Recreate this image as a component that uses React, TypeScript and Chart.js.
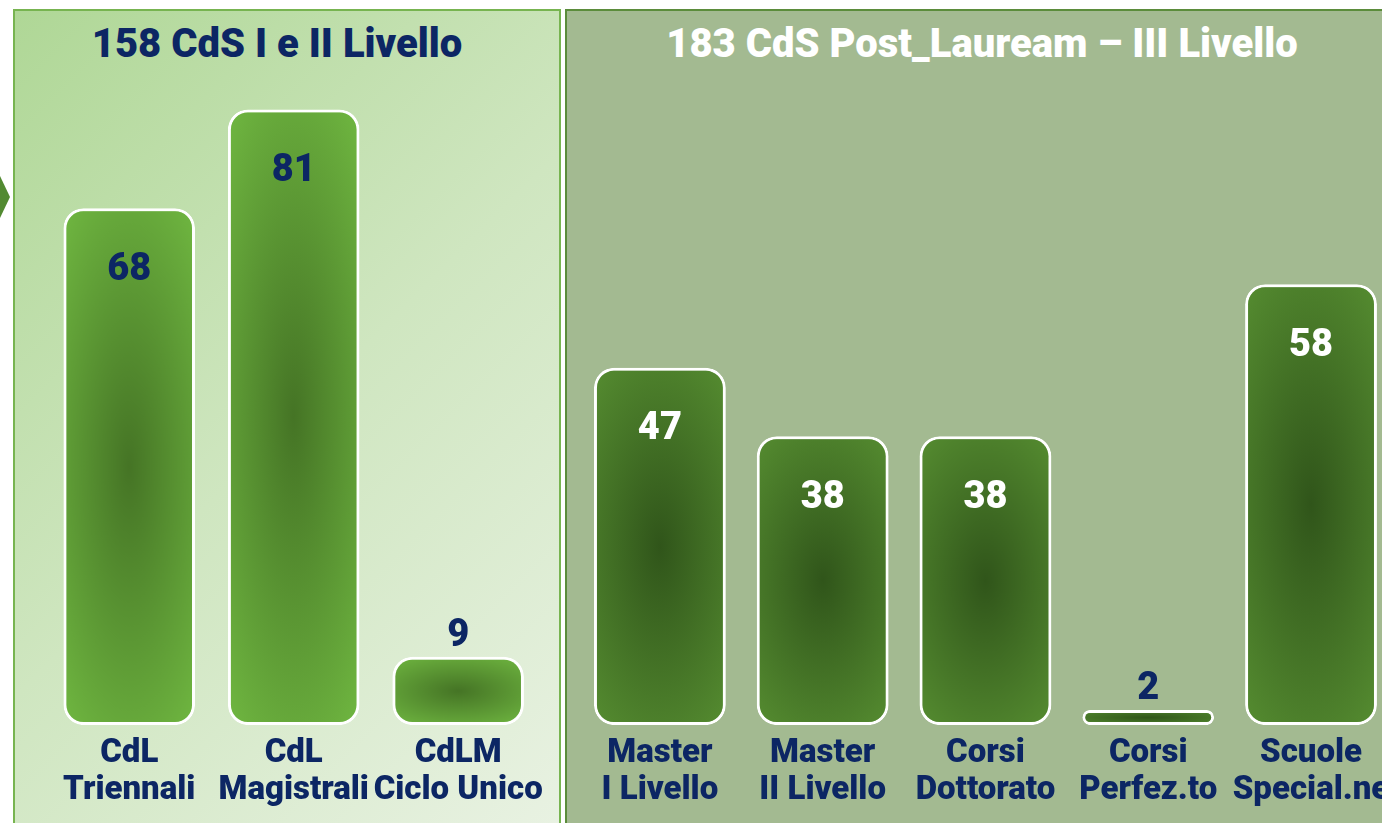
import React, { useEffect, useRef } from "react";
import { Chart, registerables } from "chart.js";

Chart.register(...registerables);

// ---------- data ----------
const leftTitle = "158 CdS I e II Livello";
const leftCategories: string[][] = [
  ["CdL", "Triennali"],
  ["CdL", "Magistrali"],
  ["CdLM", "Ciclo Unico"],
];
const leftValues: number[] = [68, 81, 9];

const rightTitle = "183 CdS Post_Lauream – III Livello";
const rightCategories: string[][] = [
  ["Master", "I Livello"],
  ["Master", "II Livello"],
  ["Corsi", "Dottorato"],
  ["Corsi", "Perfez.to"],
  ["Scuole", "Special.ne"],
];
const rightValues: number[] = [47, 38, 38, 2, 58];

const yMax = 90;

// ---------- styles ----------
const NAVY = "#0c2664";
const FONT = "Roboto, 'Noto Sans', sans-serif";
const WEIGHT = "900";

type PanelCfg = {
  labels: string[][];
  values: number[];
  edge: string;
  center: string;
  insideColor: string;
  outsideColor: string;
  catPct: number;
  padding: { left: number; right: number; top: number; bottom: number };
};

function barFill(ctx: any, cfg: PanelCfg) {
  if (ctx.type !== "data") return cfg.edge;
  const chart = ctx.chart;
  const xs = chart.scales.x;
  const ys = chart.scales.y;
  if (!xs || !ys || !chart.chartArea) return cfg.edge;
  const n = chart.data.labels.length;
  const w = ((xs.right - xs.left) / n) * cfg.catPct;
  const cx = xs.getPixelForValue(ctx.dataIndex);
  const top = ys.getPixelForValue(ctx.raw);
  const base = ys.getPixelForValue(0);
  const h = Math.max(2, base - top);
  const off = document.createElement("canvas");
  off.width = Math.max(1, Math.ceil(w));
  off.height = Math.max(1, Math.ceil(h));
  const c = off.getContext("2d");
  if (!c) return cfg.edge;
  c.fillStyle = cfg.edge;
  c.fillRect(0, 0, off.width, off.height);
  c.setTransform(w * 0.75, 0, 0, h * 0.6, w / 2, h / 2);
  const g = c.createRadialGradient(0, 0, 0, 0, 0, 1);
  g.addColorStop(0, cfg.center);
  g.addColorStop(1, cfg.edge);
  c.fillStyle = g;
  c.fillRect(-1, -1, 2, 2);
  const p = chart.ctx.createPattern(off, "no-repeat");
  if (!p) return cfg.edge;
  p.setTransform(new DOMMatrix([1, 0, 0, 1, cx - w / 2, top]));
  return p;
}

function makeValuePlugin(cfg: PanelCfg) {
  return {
    id: "valueLabels",
    afterDatasetsDraw(chart: any) {
      const meta = chart.getDatasetMeta(0);
      const ctx = chart.ctx;
      ctx.save();
      ctx.font = `${WEIGHT} 38px ${FONT}`;
      ctx.textAlign = "center";
      ctx.textBaseline = "middle";
      meta.data.forEach((el: any, i: number) => {
        const v = chart.data.datasets[0].data[i];
        const h = el.base - el.y;
        if (h > 90) {
          ctx.fillStyle = cfg.insideColor;
          ctx.fillText(String(v), el.x, el.y + 62);
        } else {
          ctx.fillStyle = cfg.outsideColor;
          ctx.fillText(String(v), el.x, el.y - 20);
        }
      });
      ctx.restore();
    },
  };
}

function PanelChart({ cfg }: { cfg: PanelCfg }) {
  const ref = useRef<HTMLCanvasElement | null>(null);
  useEffect(() => {
    if (!ref.current) return;
    const chart = new Chart(ref.current, {
      type: "bar",
      data: {
        labels: cfg.labels,
        datasets: [
          {
            data: cfg.values,
            backgroundColor: (ctx: any) => barFill(ctx, cfg),
            borderColor: "#ffffff",
            borderWidth: 3,
            borderRadius: 20,
            borderSkipped: false,
            categoryPercentage: cfg.catPct,
            barPercentage: 1,
          },
        ],
      },
      options: {
        animation: false,
        responsive: true,
        maintainAspectRatio: false,
        layout: { padding: cfg.padding },
        plugins: {
          legend: { display: false },
          tooltip: { enabled: false },
          title: { display: false },
        },
        scales: {
          x: {
            grid: { display: false, drawTicks: false },
            border: { display: false },
            ticks: {
              color: NAVY,
              padding: 10,
              maxRotation: 0,
              autoSkip: false,
              font: { family: FONT, size: 33, weight: WEIGHT, lineHeight: 1.12 },
            },
          },
          y: {
            display: false,
            min: 0,
            max: yMax,
          },
        },
      },
      plugins: [makeValuePlugin(cfg)],
    });
    return () => chart.destroy();
  }, [cfg]);
  return <canvas ref={ref} />;
}

const leftCfg: PanelCfg = {
  labels: leftCategories,
  values: leftValues,
  edge: "#6db33f",
  center: "#457425",
  insideColor: NAVY,
  outsideColor: NAVY,
  catPct: 0.8,
  padding: { left: 33, right: 18.6, top: 31, bottom: 4 },
};

const rightCfg: PanelCfg = {
  labels: rightCategories,
  values: rightValues,
  edge: "#53892f",
  center: "#30551a",
  insideColor: "#ffffff",
  outsideColor: NAVY,
  catPct: 0.81,
  padding: { left: 12.5, right: 6.5, top: 31, bottom: 4 },
};

export default function App() {
  useEffect(() => {
    document.body.style.margin = "0";
  }, []);
  return (
    <div
      style={{
        position: "fixed",
        left: 0,
        top: 0,
        width: 1382,
        height: 823,
        overflow: "hidden",
        background: "#ffffff",
        fontFamily: FONT,
      }}
    >
      {/* arrow tip */}
      <div
        style={{
          position: "absolute",
          left: 0,
          top: 176,
          width: 10,
          height: 42,
          background: "#528a31",
          clipPath: "polygon(0 0, 100% 50%, 0 100%)",
        }}
      />
      {/* left panel */}
      <div
        style={{
          position: "absolute",
          left: 13,
          top: 9,
          width: 544,
          height: 830,
          border: "2px solid #77b450",
          background: "linear-gradient(135deg, #afd796 0%, #cfe6c0 50%, #e9f2e3 100%)",
        }}
      />
      {/* right panel */}
      <div
        style={{
          position: "absolute",
          left: 565,
          top: 9,
          width: 840,
          height: 830,
          border: "2px solid #5b8c3b",
          background: "#a3ba91",
        }}
      />
      {/* titles */}
      <div
        style={{
          position: "absolute",
          left: 14,
          top: 22,
          width: 526,
          textAlign: "center",
          lineHeight: "44px",
          fontSize: 40,
          fontWeight: 900,
          color: NAVY,
          whiteSpace: "nowrap",
        }}
      >
        {leftTitle}
      </div>
      <div
        style={{
          position: "absolute",
          left: 566,
          top: 22,
          width: 832,
          textAlign: "center",
          lineHeight: "44px",
          fontSize: 40,
          fontWeight: 900,
          color: "#ffffff",
          whiteSpace: "nowrap",
        }}
      >
        {rightTitle}
      </div>
      {/* charts */}
      <div style={{ position: "absolute", left: 14, top: 10, width: 545, height: 813 }}>
        <PanelChart cfg={leftCfg} />
      </div>
      <div style={{ position: "absolute", left: 566, top: 10, width: 834, height: 813 }}>
        <PanelChart cfg={rightCfg} />
      </div>
    </div>
  );
}
